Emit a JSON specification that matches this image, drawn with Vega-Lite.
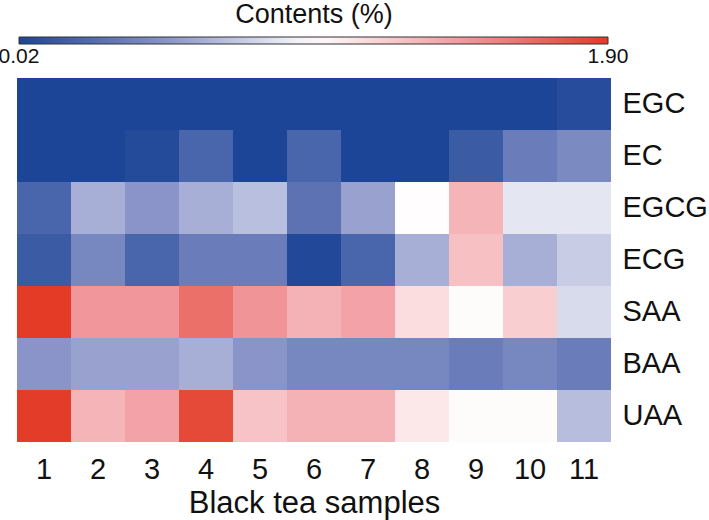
{
  "$schema": "https://vega.github.io/schema/vega-lite/v6.json",
  "autosize": {"type": "none"},
  "width": 594,
  "height": 364,
  "padding": {"left": 17, "top": 78, "right": 98, "bottom": 78},
  "background": "white",
  "config": {
    "font": "Liberation Sans",
    "view": {"stroke": null}
  },
  "data": {"values": [
    {"s":1,"c":"EGC","v":0.02},{"s":2,"c":"EGC","v":0.02},{"s":3,"c":"EGC","v":0.02},{"s":4,"c":"EGC","v":0.02},{"s":5,"c":"EGC","v":0.02},{"s":6,"c":"EGC","v":0.02},{"s":7,"c":"EGC","v":0.02},{"s":8,"c":"EGC","v":0.02},{"s":9,"c":"EGC","v":0.02},{"s":10,"c":"EGC","v":0.02},{"s":11,"c":"EGC","v":0.06},
    {"s":1,"c":"EC","v":0.02},{"s":2,"c":"EC","v":0.02},{"s":3,"c":"EC","v":0.05},{"s":4,"c":"EC","v":0.21},{"s":5,"c":"EC","v":0.02},{"s":6,"c":"EC","v":0.21},{"s":7,"c":"EC","v":0.02},{"s":8,"c":"EC","v":0.02},{"s":9,"c":"EC","v":0.15},{"s":10,"c":"EC","v":0.35},{"s":11,"c":"EC","v":0.43},
    {"s":1,"c":"EGCG","v":0.21},{"s":2,"c":"EGCG","v":0.61},{"s":3,"c":"EGCG","v":0.49},{"s":4,"c":"EGCG","v":0.61},{"s":5,"c":"EGCG","v":0.68},{"s":6,"c":"EGCG","v":0.29},{"s":7,"c":"EGCG","v":0.55},{"s":8,"c":"EGCG","v":0.97},{"s":9,"c":"EGCG","v":1.31},{"s":10,"c":"EGCG","v":0.85},{"s":11,"c":"EGCG","v":0.85},
    {"s":1,"c":"ECG","v":0.15},{"s":2,"c":"ECG","v":0.41},{"s":3,"c":"ECG","v":0.21},{"s":4,"c":"ECG","v":0.35},{"s":5,"c":"ECG","v":0.35},{"s":6,"c":"ECG","v":0.04},{"s":7,"c":"ECG","v":0.21},{"s":8,"c":"ECG","v":0.61},{"s":9,"c":"ECG","v":1.25},{"s":10,"c":"ECG","v":0.61},{"s":11,"c":"ECG","v":0.74},
    {"s":1,"c":"SAA","v":1.90},{"s":2,"c":"SAA","v":1.45},{"s":3,"c":"SAA","v":1.45},{"s":4,"c":"SAA","v":1.64},{"s":5,"c":"SAA","v":1.46},{"s":6,"c":"SAA","v":1.32},{"s":7,"c":"SAA","v":1.39},{"s":8,"c":"SAA","v":1.12},{"s":9,"c":"SAA","v":0.98},{"s":10,"c":"SAA","v":1.19},{"s":11,"c":"SAA","v":0.80},
    {"s":1,"c":"BAA","v":0.49},{"s":2,"c":"BAA","v":0.55},{"s":3,"c":"BAA","v":0.55},{"s":4,"c":"BAA","v":0.61},{"s":5,"c":"BAA","v":0.49},{"s":6,"c":"BAA","v":0.41},{"s":7,"c":"BAA","v":0.41},{"s":8,"c":"BAA","v":0.41},{"s":9,"c":"BAA","v":0.35},{"s":10,"c":"BAA","v":0.41},{"s":11,"c":"BAA","v":0.35},
    {"s":1,"c":"UAA","v":1.89},{"s":2,"c":"UAA","v":1.31},{"s":3,"c":"UAA","v":1.39},{"s":4,"c":"UAA","v":1.83},{"s":5,"c":"UAA","v":1.24},{"s":6,"c":"UAA","v":1.32},{"s":7,"c":"UAA","v":1.32},{"s":8,"c":"UAA","v":1.07},{"s":9,"c":"UAA","v":0.98},{"s":10,"c":"UAA","v":0.98},{"s":11,"c":"UAA","v":0.67}
  ]},
  "mark": {"type": "rect"},
  "encoding": {
    "x": {
      "field": "s", "type": "ordinal", "sort": "ascending",
      "axis": {
        "title": "Black tea samples", "titleFontSize": 31, "titleFontWeight": "normal", "titleColor": "#111",
        "labelFontSize": 29, "labelAngle": 0, "labelColor": "#111", "labelPadding": 13,
        "ticks": false, "domain": false, "titlePadding": 4
      }
    },
    "y": {
      "field": "c", "type": "nominal",
      "sort": ["EGC", "EC", "EGCG", "ECG", "SAA", "BAA", "UAA"],
      "axis": {
        "orient": "right", "title": null, "labelFontSize": 29, "labelColor": "#111",
        "labelPadding": 11, "ticks": false, "domain": false
      }
    },
    "color": {
      "field": "v", "type": "quantitative",
      "scale": {
        "domain": [0.02, 0.49, 0.96, 1.43, 1.90],
        "range": ["#1d4597", "#8a94c8", "#ffffff", "#f29aa0", "#e33b26"],
        "interpolate": "rgb"
      },
      "legend": {
        "orient": "none", "direction": "horizontal", "legendX": 2, "legendY": -76,
        "title": "Contents (%)", "titleFontSize": 27, "titleFontWeight": "normal", "titleColor": "#111",
        "titleAnchor": "middle", "titlePadding": 8,
        "gradientLength": 589, "gradientThickness": 7, "gradientStrokeColor": "#333", "gradientStrokeWidth": 1,
        "values": [0.02, 1.90], "format": ".2f", "labelFontSize": 21, "labelColor": "#111", "labelOffset": 2,
        "encode": {"labels": {"update": {"align": {"value": "center"}}}}
      }
    }
  }
}
